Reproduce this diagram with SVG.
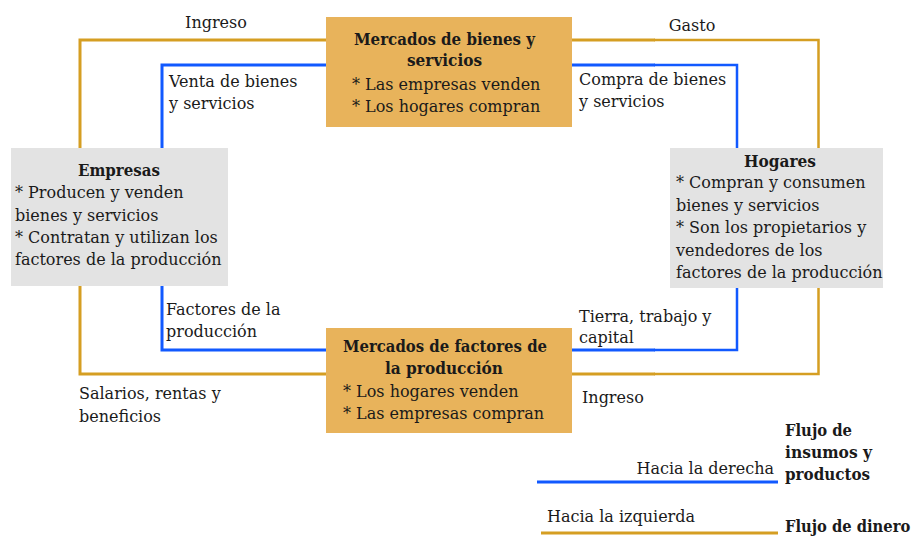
<svg xmlns="http://www.w3.org/2000/svg" width="915" height="538" viewBox="0 0 915 538">
<style>
text{font-family:"DejaVu Serif","Liberation Serif",serif;font-size:16px;fill:#1a1a1a}
.b{font-weight:bold}
.c{text-anchor:middle}
.e{text-anchor:end}
.gold{fill:none;stroke:#D59E22;stroke-width:3}
.gold2{fill:none;stroke:#D59E22;stroke-width:2.5}
.blue{fill:none;stroke:#1159FF;stroke-width:3}
.blue2{fill:none;stroke:#1159FF;stroke-width:2.5}
.mk{fill:#E8B35B}
.ag{fill:#E3E3E3}
</style>
<rect width="915" height="538" fill="#fff"/>
<g id="connectors">
<polyline class="gold" points="326,40 80,40 80,148"/>
<polyline class="blue" points="326,65 162,65 162,148"/>
<line class="gold" x1="572" y1="40" x2="655" y2="40"/>
<polyline class="gold2" points="654,40 818.5,40 818.5,148"/>
<line class="blue" x1="572" y1="65" x2="655" y2="65"/>
<polyline class="blue2" points="654,65 737,65 737,148"/>
<polyline class="gold" points="80,286 80,374 326,374"/>
<polyline class="blue" points="162,286 162,350 326,350"/>
<line class="blue" x1="572" y1="350" x2="655" y2="350"/>
<polyline class="blue2" points="654,350 737,350 737,288"/>
<line class="gold" x1="572" y1="374" x2="655" y2="374"/>
<polyline class="gold2" points="654,374 818.5,374 818.5,288"/>
<line class="blue" x1="537" y1="482" x2="778" y2="482"/>
<line class="gold" x1="541" y1="533" x2="778" y2="533"/>
</g>
<g id="labels">
<text x="216" y="28" class="c">Ingreso</text>
<text x="692" y="31" class="c">Gasto</text>
<text x="169" y="87">Venta de bienes</text>
<text x="169" y="109">y servicios</text>
<text x="579" y="85">Compra de bienes</text>
<text x="579" y="107">y servicios</text>
<text x="166" y="315">Factores de la</text>
<text x="166" y="337">producción</text>
<text x="579" y="322">Tierra, trabajo y</text>
<text x="579" y="343">capital</text>
<text x="79" y="399">Salarios, rentas y</text>
<text x="79" y="422">beneficios</text>
<text x="582" y="403">Ingreso</text>
</g>
<g id="mercado-bienes">
<rect class="mk" x="326" y="17" width="246" height="110"/>
<text x="354" y="45" class="b" textLength="181" lengthAdjust="spacingAndGlyphs">Mercados de bienes y</text>
<text x="407" y="66" class="b" textLength="75" lengthAdjust="spacingAndGlyphs">servicios</text>
<text x="352" y="90">* Las empresas venden</text>
<text x="352" y="112">* Los hogares compran</text>
</g>
<g id="empresas">
<rect class="ag" x="11" y="148" width="217" height="138"/>
<text x="78" y="176" class="b" textLength="82" lengthAdjust="spacingAndGlyphs">Empresas</text>
<text x="15" y="198">* Producen y venden</text>
<text x="15" y="221">bienes y servicios</text>
<text x="15" y="243">* Contratan y utilizan los</text>
<text x="15" y="265">factores de la producción</text>
</g>
<g id="hogares">
<rect class="ag" x="670" y="148" width="213" height="140"/>
<text x="744" y="167" class="b" textLength="72" lengthAdjust="spacingAndGlyphs">Hogares</text>
<text x="676" y="188">* Compran y consumen</text>
<text x="676" y="211">bienes y servicios</text>
<text x="676" y="233">* Son los propietarios y</text>
<text x="676" y="256">vendedores de los</text>
<text x="676" y="278">factores de la producción</text>
</g>
<g id="mercado-factores">
<rect class="mk" x="326" y="328" width="246" height="105"/>
<text x="343" y="352" class="b" textLength="204" lengthAdjust="spacingAndGlyphs">Mercados de factores de</text>
<text x="385" y="374" class="b" textLength="118" lengthAdjust="spacingAndGlyphs">la producción</text>
<text x="343" y="397">* Los hogares venden</text>
<text x="343" y="419">* Las empresas compran</text>
</g>
<g id="legend">
<text x="774" y="474" class="e">Hacia la derecha</text>
<text x="547" y="522">Hacia la izquierda</text>
<text x="785" y="436" class="b" textLength="67" lengthAdjust="spacingAndGlyphs">Flujo de</text>
<text x="785" y="458" class="b" textLength="87" lengthAdjust="spacingAndGlyphs">insumos y</text>
<text x="785" y="480" class="b" textLength="85" lengthAdjust="spacingAndGlyphs">productos</text>
<text class="b" transform="translate(785,532) scale(0.92,1)">Flujo de dinero</text>
</g>
</svg>
